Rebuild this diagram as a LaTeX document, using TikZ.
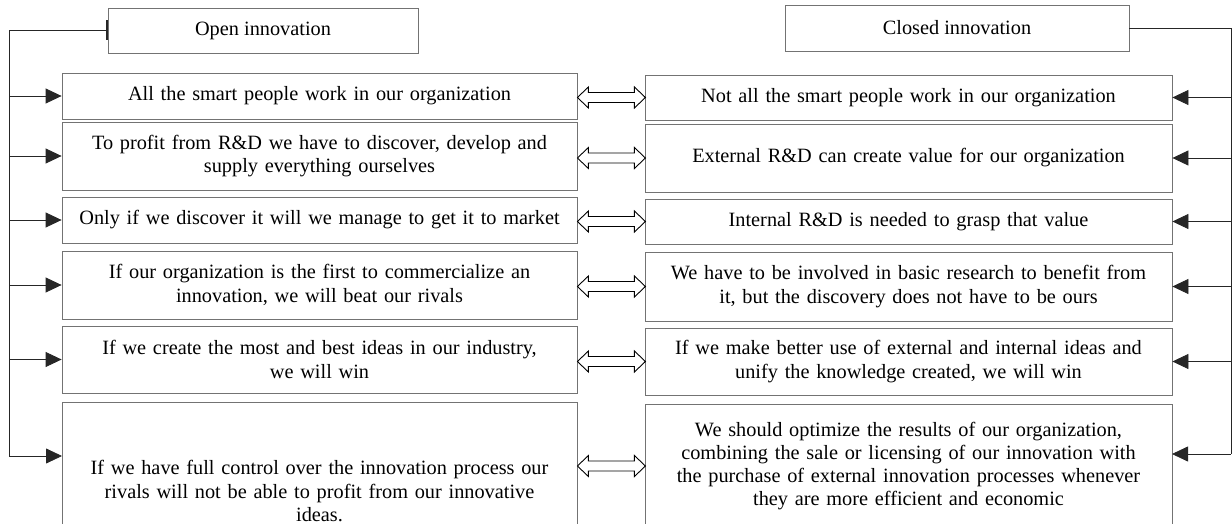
\documentclass[tikz,border=0pt]{standalone}
\usepackage{fontspec}
\setmainfont{Liberation Serif}
\usetikzlibrary{arrows.meta}

\tikzset{
  box/.style={draw=black!55, line width=0.8pt, inner ysep=0pt, align=center,
    font=\fontsize{20.3}{23.2}\selectfont},
  lbox/.style={box, inner xsep=2pt, text width=511pt},
  rbox/.style={box, inner xsep=4pt, text width=519pt},
  link/.style={draw=black!85, line width=0.8pt},
  feed/.style={link, -{Triangle[length=16pt,width=15pt]}},
  twoway/.style={draw=black, line width=0.9pt, fill=white, line join=miter},
}

% hollow double arrow from #1, 68pt long
\newcommand\twowayarrow[1]{%
  \draw[twoway] (#1) -- ++(11,-10.5) -- ++(0,5.5) -- ++(46,0) -- ++(0,-5.5)
      -- ++(11,10.5) -- ++(-11,10.5) -- ++(0,-5.5) -- ++(-46,0) -- ++(0,5.5) -- cycle;}

\begin{document}
\begin{tikzpicture}[x=1pt,y=-1pt]
        \useasboundingbox (0,0) rectangle (1232,524);

        \node[box, minimum width=310pt, minimum height=45pt] (open) at (263,30.5) {Open innovation};
        \node[box, minimum width=344pt, minimum height=46pt] (closed) at (957,28) {Closed innovation};

        % left column
        \node[lbox, minimum height=46pt] (L1) at (319.5,96) {All the smart people work in our organization};
        \node[lbox, minimum height=68pt] (L2) at (319.5,156) {To profit from R\&D we have to discover, develop and\\ supply everything ourselves};
        \node[lbox, minimum height=46pt] (L3) at (319.5,220) {Only if we discover it will we manage to get it to market};
        \node[lbox, minimum height=68pt] (L4) at (319.5,285) {If our organization is the first to commercialize an\\ innovation, we will beat our rivals};
        \node[lbox, minimum height=67pt] (L5) at (319.5,359.5) {If we create the most and best ideas in our industry,\\ we will win};
        \node[lbox, minimum height=178pt] (L6) at (319.5,491) {If we have full control over the innovation process our\\ rivals will not be able to profit from our innovative\\ ideas.};

        % right column
        \node[rbox, minimum height=45pt] (R1) at (908.5,97.5) {Not all the smart people work in our organization};
        \node[rbox, minimum height=68pt] (R2) at (908.5,158) {External R\&D can create value for our organization};
        \node[rbox, minimum height=45pt] (R3) at (908.5,221.5) {Internal R\&D is needed to grasp that value};
        \node[rbox, minimum height=69pt] (R4) at (908.5,286.5) {We have to be involved in basic research to benefit from\\ it, but the discovery does not have to be ours};
        \node[rbox, minimum height=67pt] (R5) at (908.5,361.5) {If we make better use of external and internal ideas and\\ unify the knowledge created, we will win};
        \node[rbox, minimum height=124pt] (R6) at (908.5,466) {We should optimize the results of our organization,\\ combining the sale or licensing of our innovation with\\ the purchase of external innovation processes whenever\\ they are more efficient and economic};

        \coordinate (lbus) at (9,0);
        \coordinate (rbus) at (1231,0);
        \coordinate (l6in) at (62,456);
        \coordinate (r6in) at (1172,454);

        \draw[link, {Bar[width=20pt,line width=1.6pt]}-] (open.west) -- (lbus |- open.west) -- (lbus |- l6in);
        \draw[link] (closed.east) -- (rbus |- closed.east) -- (rbus |- r6in);

        \foreach \n in {1,...,5} {
            \draw[feed] (lbus |- L\n.west) -- (L\n.west);
            \draw[feed] (rbus |- R\n.east) -- (R\n.east);
            \twowayarrow{L\n.east |- R\n.west}
        }
        \draw[feed] (lbus |- l6in) -- (l6in);
        \draw[feed] (rbus |- r6in) -- (r6in);
        \twowayarrow{L6.east |- R6.west}
\end{tikzpicture}
\end{document}
